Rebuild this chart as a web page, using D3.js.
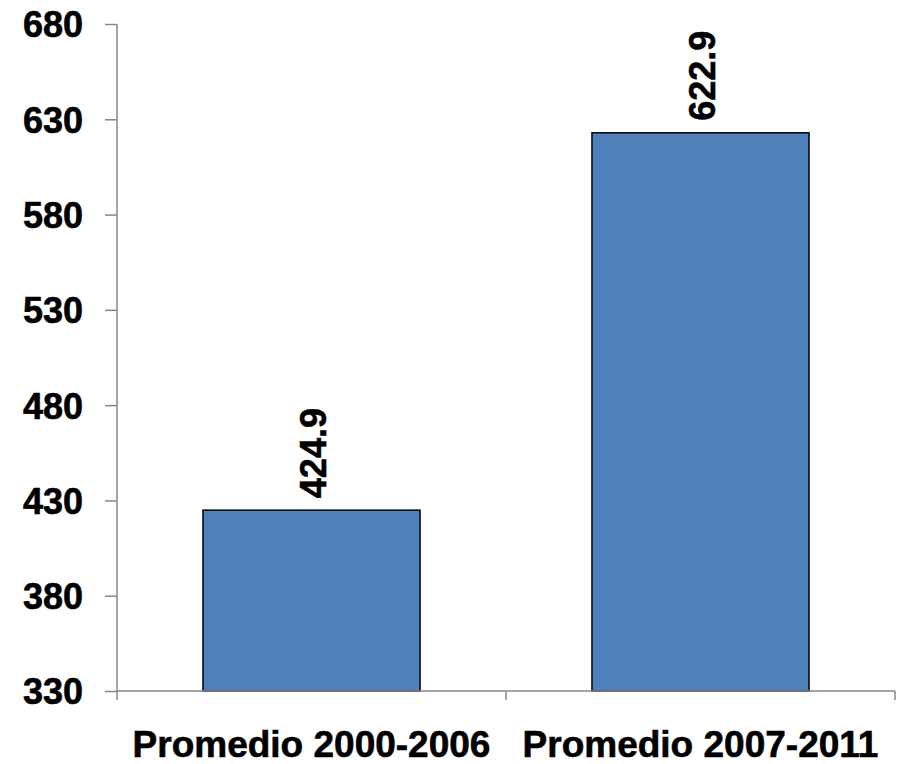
<!DOCTYPE html>
<html><head><meta charset="utf-8">
<script src="https://cdn.jsdelivr.net/npm/d3@7"></script>
<style>body{margin:0;background:#fff}svg{display:block}text{font-family:"Liberation Sans",Arial,sans-serif;font-weight:bold;fill:#000;stroke:#000;stroke-width:0.6px}</style>
</head><body>
<svg id="c" width="898" height="764"></svg>
<script>
const categories = ["Promedio 2000-2006", "Promedio 2007-2011"];
const values = [424.9, 622.9];
const yTicks = [330, 380, 430, 480, 530, 580, 630, 680];

const svg = d3.select("#c");
const x0 = 117, x1 = 895, yB = 691, yT = 24;
const x = d3.scaleBand().domain(categories).range([x0, x1]).paddingInner(0.442).paddingOuter(0.221);
const y = d3.scaleLinear().domain([330, 680]).range([yB, yT]);
const axisColor = "#868686";

// bars
svg.selectAll("rect.bar").data(values).join("rect")
  .attr("x", (d,i) => x(categories[i]))
  .attr("y", d => y(d))
  .attr("width", x.bandwidth())
  .attr("height", d => y(330) - y(d))
  .attr("fill", "#4F81BD").attr("stroke", "#000").attr("stroke-width", 1.5);

// y axis
const ya = svg.append("g").attr("transform", `translate(${x0},0)`)
  .call(d3.axisLeft(y).tickValues(yTicks).tickSize(12).tickPadding(22).tickSizeOuter(0));
ya.attr("font-family", null).attr("font-size", null);
ya.select(".domain").remove();
ya.selectAll(".tick line").attr("stroke", axisColor).attr("stroke-width", 1.5);
ya.selectAll(".tick text").attr("font-size", 36).attr("font-weight", "bold").attr("dy", "0.36em")
  .attr("fill", "#000");
svg.append("line").attr("x1", x0).attr("x2", x0).attr("y1", yT).attr("y2", yB + 9)
  .attr("stroke", axisColor).attr("stroke-width", 1.5);

// x axis
svg.append("line").attr("x1", x0).attr("x2", x1).attr("y1", yB).attr("y2", yB)
  .attr("stroke", axisColor).attr("stroke-width", 1.5);
const bounds = [x0, (x0 + x1) / 2, x1];
svg.selectAll("line.xt").data(bounds.slice(1)).join("line")
  .attr("x1", d => d).attr("x2", d => d).attr("y1", yB).attr("y2", yB + 9)
  .attr("stroke", axisColor).attr("stroke-width", 1.5);

// category labels
svg.selectAll("text.cat").data(categories).join("text")
  .attr("x", d => x(d) + x.bandwidth() / 2)
  .attr("y", 757)
  .attr("text-anchor", "middle").attr("font-size", 37)
  .text(d => d);

// value labels
svg.selectAll("text.val").data(values).join("text")
  .attr("transform", (d,i) => `translate(${x(categories[i]) + x.bandwidth()/2 + 14},${y(d) - 12}) rotate(-90)`)
  .attr("font-size", 36)
  .text(d => d.toFixed(1));
</script>
</body></html>
